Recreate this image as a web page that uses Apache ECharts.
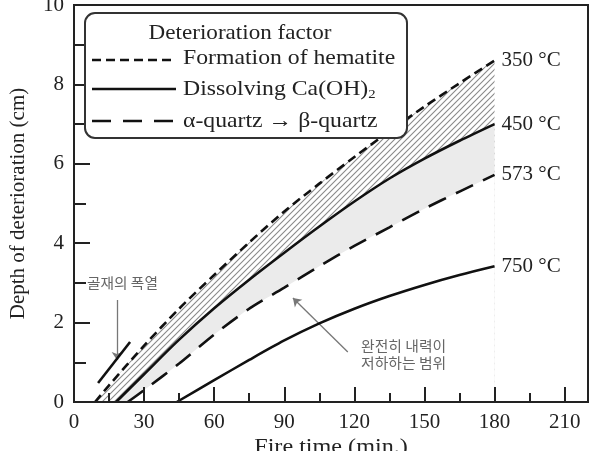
<!DOCTYPE html>
<html><head><meta charset="utf-8">
<script src="https://cdn.jsdelivr.net/npm/echarts@6/dist/echarts.min.js"></script>
<style>html,body{margin:0;padding:0;background:#fff}#c{width:593px;height:451px}</style>
</head><body><div id="c"></div>
<script>
// ---- data ----
const time350  = [9, 15, 30, 45, 60, 75, 90, 105, 120, 135, 150, 165, 180];
const depth350 = [0, 0.42, 1.42, 2.35, 3.2, 4.02, 4.8, 5.5, 6.17, 6.82, 7.44, 8.03, 8.6];
const time450  = [18, 30, 45, 60, 75, 90, 105, 120, 135, 150, 165, 180];
const depth450 = [0, 0.7, 1.57, 2.36, 3.08, 3.76, 4.42, 5.05, 5.63, 6.13, 6.58, 7.0];
const time573  = [23, 30, 45, 60, 75, 90, 105, 120, 135, 150, 165, 180];
const depth573 = [0, 0.3, 0.97, 1.7, 2.35, 2.88, 3.42, 3.93, 4.4, 4.87, 5.3, 5.72];
const time750  = [44, 60, 75, 90, 105, 120, 135, 150, 165, 180];
const depth750 = [0, 0.55, 1.06, 1.55, 1.98, 2.35, 2.67, 2.95, 3.2, 3.42];
const seriesLabels = ['350 °C', '450 °C', '573 °C', '750 °C'];
const xTicks = [0, 30, 60, 90, 120, 150, 180, 210];
const legendTitle = 'Deterioration factor';
const legendItems = ['Formation of hematite', 'Dissolving Ca(OH){sub|2}', 'α-quartz → β-quartz'];
const xName = 'Fire time (min.)';
const yName = 'Depth of deterioration (cm)';
// annotation arrows, in data coordinates
const arrowSpalling = [[18.4, 2.57], [18.4, 1.06]];
const arrowRange = [[117.2, 1.26], [93.7, 2.62]];
const markSpalling = [[10.3, 0.48], [24, 1.51]];
const noteSpalling = '골재의 폭열';
const noteRange = '완전히 내력이\n저하하는 범위';

const zip = (xs, ys) => xs.map((x, i) => [x, ys[i]]);

// hatch pattern (diagonal lines)
const N = 6;
const pc = document.createElement('canvas');
pc.width = N; pc.height = N;
const g = pc.getContext('2d');
g.fillStyle = '#ffffff'; g.fillRect(0, 0, N, N);
g.strokeStyle = '#8a8a8a'; g.lineWidth = 1.1;
g.beginPath();
g.moveTo(0, N); g.lineTo(N, 0);
g.moveTo(-1, 1); g.lineTo(1, -1);
g.moveTo(N - 1, N + 1); g.lineTo(N + 1, N - 1);
g.stroke();

const serif = 'Liberation Serif';
const FS = 21;
const endLbl = (t) => ({show: true, formatter: t, fontFamily: serif, fontSize: FS, color: '#222', distance: 7});

const chart = echarts.init(document.getElementById('c'), null, {renderer: 'canvas'});
chart.setOption({
  animation: false,
  backgroundColor: '#fff',
  grid: {left: 74, right: 5, top: 5, bottom: 49, containLabel: false, outerBoundsMode: 'none',
         show: true, borderColor: '#222', borderWidth: 2, backgroundColor: 'transparent'},
  xAxis: {
    type: 'value', min: 0, max: 220, interval: 30, z: 10,
    axisLine: {show: true, lineStyle: {color: '#222', width: 2}},
    axisTick: {show: true, inside: true, length: 15, lineStyle: {color: '#222', width: 2}},
    minorTick: {show: true, splitNumber: 2, length: 9, lineStyle: {color: '#222', width: 2}},
    axisLabel: {fontFamily: serif, fontSize: FS, color: '#222', margin: 10,
      formatter: v => xTicks.indexOf(v) >= 0 ? String(v) : ''},
    splitLine: {show: false}
  },
  yAxis: {
    type: 'value', min: 0, max: 10, interval: 2, z: 10,
    name: yName, nameLocation: 'middle', nameGap: 45, nameRotate: 90,
    nameTextStyle: {fontFamily: serif, fontSize: FS, color: '#222'},
    axisLine: {show: true, lineStyle: {color: '#222', width: 2}},
    axisTick: {show: true, inside: true, length: 16, lineStyle: {color: '#222', width: 2}},
    minorTick: {show: true, splitNumber: 2, length: 12, lineStyle: {color: '#222', width: 2}},
    axisLabel: {fontFamily: serif, fontSize: FS, color: '#222', margin: 10},
    splitLine: {show: false}
  },
  series: [
    {type: 'line', name: seriesLabels[0], data: zip(time350, depth350), smooth: 0.3, symbol: 'none', z: 2,
     lineStyle: {color: '#111', width: 2.6, type: [9, 5]},
     areaStyle: {color: {image: pc, repeat: 'repeat'}, opacity: 1},
     endLabel: endLbl(seriesLabels[0])},
    {type: 'line', name: seriesLabels[1], data: zip(time450, depth450), smooth: 0.3, symbol: 'none', z: 3,
     lineStyle: {color: '#111', width: 2.6},
     areaStyle: {color: '#ebebeb', opacity: 1},
     endLabel: endLbl(seriesLabels[1])},
    {type: 'line', name: seriesLabels[2], data: zip(time573, depth573), smooth: 0.3, symbol: 'none', z: 4,
     lineStyle: {color: '#111', width: 2.6, type: [19, 11]},
     areaStyle: {color: '#ffffff', opacity: 1},
     endLabel: endLbl(seriesLabels[2])},
    {type: 'line', name: seriesLabels[3], data: zip(time750, depth750), smooth: 0.3, symbol: 'none', z: 5,
     lineStyle: {color: '#111', width: 2.6},
     endLabel: endLbl(seriesLabels[3]),
     markLine: {
       silent: true, animation: false, label: {show: false}, symbol: ['none', 'arrow'], symbolSize: 8,
       lineStyle: {color: '#777', width: 1.3, type: 'solid'},
       data: [
         [{coord: arrowSpalling[0]}, {coord: arrowSpalling[1]}],
         [{coord: arrowRange[0]}, {coord: arrowRange[1]}],
         [{coord: markSpalling[0], symbol: 'none', lineStyle: {color: '#111', width: 2.6}}, {coord: markSpalling[1], symbol: 'none'}]
       ]
     }}
  ],
  graphic: [
    {type: 'rect', z: 100, shape: {x: 85, y: 13, width: 322, height: 125, r: 10},
     style: {fill: '#fff', stroke: '#333', lineWidth: 2}},
    {type: 'text', z: 101, x: 240, y: 33, scaleX: 1.1,
     style: {text: legendTitle, fontFamily: serif, fontSize: FS, fill: '#222', align: 'center', verticalAlign: 'middle'}},
    {type: 'line', z: 101, shape: {x1: 92, y1: 60, x2: 176, y2: 60}, style: {stroke: '#111', lineWidth: 2.6, lineDash: [9, 5]}},
    {type: 'line', z: 101, shape: {x1: 92, y1: 89, x2: 176, y2: 89}, style: {stroke: '#111', lineWidth: 2.6}},
    {type: 'line', z: 101, shape: {x1: 92, y1: 121, x2: 176, y2: 121}, style: {stroke: '#111', lineWidth: 2.6, lineDash: [19, 12]}},
    {type: 'text', z: 101, x: 183, y: 58, scaleX: 1.13,
     style: {text: legendItems[0], fontFamily: serif, fontSize: FS, fill: '#222', verticalAlign: 'middle'}},
    {type: 'text', z: 101, x: 183, y: 89, scaleX: 1.13,
     style: {text: legendItems[1], fontFamily: serif, fontSize: FS, fill: '#222', verticalAlign: 'middle',
       rich: {sub: {fontFamily: serif, fontSize: 13, fill: '#222', padding: [12, 0, 0, 0]}}}},
    {type: 'text', z: 101, x: 183, y: 121, scaleX: 1.13,
     style: {text: legendItems[2], fontFamily: serif, fontSize: FS, fill: '#222', verticalAlign: 'middle'}},
    {type: 'text', z: 101, x: 331, y: 447, scaleX: 1.15,
     style: {text: xName, fontFamily: serif, fontSize: FS, fill: '#222', align: 'center', verticalAlign: 'middle'}},
    {type: 'text', z: 101, x: 87, y: 283, scaleX: 1.05,
     style: {text: noteSpalling, fontFamily: 'Noto Sans CJK KR', fontSize: 14, fill: '#666', verticalAlign: 'middle'}},
    {type: 'text', z: 101, x: 361, y: 337, scaleX: 1.06,
     style: {text: noteRange, fontFamily: 'Noto Sans CJK KR', fontSize: 14, fill: '#666', lineHeight: 17}}
  ]
});
</script></body></html>
